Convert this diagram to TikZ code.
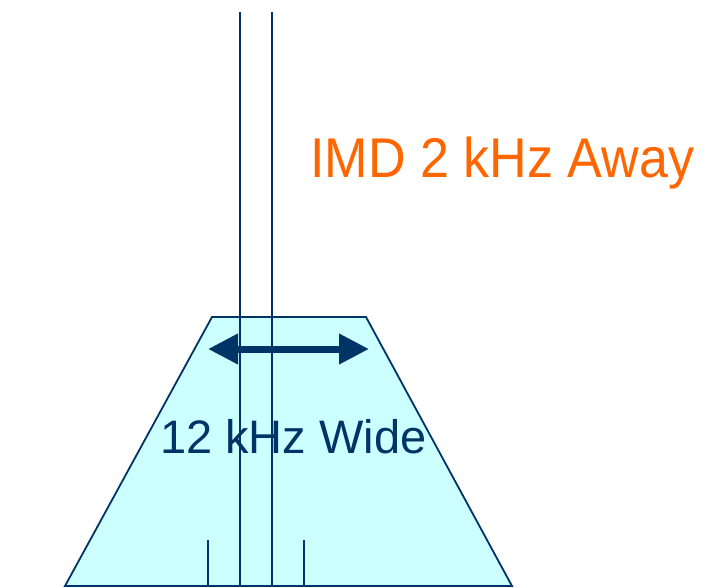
\documentclass[tikz,border=0pt]{standalone}
\usepackage{fontspec}
\setmainfont{Liberation Sans}
\usetikzlibrary{arrows.meta}
\definecolor{navy}{HTML}{003366}
\definecolor{orng}{HTML}{FF6600}
\definecolor{cyanfill}{HTML}{CCFFFF}
\begin{document}
\begin{tikzpicture}[x=1pt,y=-1pt,
  ln/.style={draw=navy,line width=1.5pt},
  lbl/.style={inner sep=0pt,anchor=base west}]
\useasboundingbox (0,0) rectangle (706,588);
\coordinate (tl) at (212,317);
\coordinate (tr) at (366,317);
\coordinate (br) at (512,586);
\coordinate (bl) at (65,586);
\draw[draw=navy,fill=cyanfill,line width=1.8pt,line join=miter] (tl) -- (tr) -- (br) -- (bl) -- cycle;
\coordinate (a1) at (208,349);
\coordinate (a2) at (369,349);
\draw[navy,line width=7pt,{Triangle[length=30pt,width=29pt]}-{Triangle[length=30pt,width=29pt]}] (a1) -- (a2);
\node[lbl,text=navy,font=\fontsize{47}{47}\selectfont] (wide) at (160,453) {12 kHz Wide};
\node[lbl,text=orng,font=\fontsize{56}{56}\selectfont] (imd) at (310,178) {\scalebox{0.93}[1]{IMD 2 kHz Away}};
\coordinate (v1t) at (240,12); \coordinate (v1b) at (240,586);
\coordinate (v2t) at (272,12); \coordinate (v2b) at (272,586);
\coordinate (t1t) at (208,540); \coordinate (t1b) at (208,586);
\coordinate (t2t) at (304,540); \coordinate (t2b) at (304,586);
\draw[ln] (v1t) -- (v1b);
\draw[ln] (v2t) -- (v2b);
\draw[ln] (t1t) -- (t1b);
\draw[ln] (t2t) -- (t2b);
\end{tikzpicture}
\end{document}
